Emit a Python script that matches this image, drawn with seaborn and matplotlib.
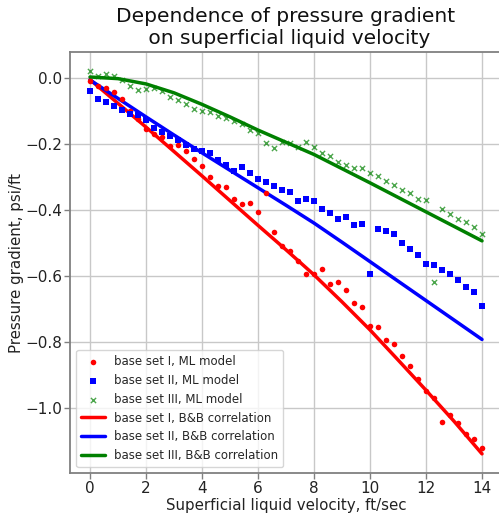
import numpy as np
import pandas as pd
import matplotlib
matplotlib.use("Agg")
import matplotlib.pyplot as plt
import seaborn as sns

# superficial liquid velocity of the ML model points (ft/sec)
velocity = [0.0, 0.29, 0.57, 0.86, 1.14, 1.43, 1.71, 2.0, 2.29, 2.57,
            2.86, 3.14, 3.43, 3.71, 4.0, 4.29, 4.57, 4.86, 5.14, 5.43,
            5.71, 6.0, 6.29, 6.57, 6.86, 7.14, 7.43, 7.71, 8.0, 8.29,
            8.57, 8.86, 9.14, 9.43, 9.71, 10.0, 10.29, 10.57, 10.86, 11.14,
            11.43, 11.71, 12.0, 12.29, 12.57, 12.86, 13.14, 13.43, 13.71, 14.0]

ml_set1 = [-0.010, -0.023, -0.029, -0.044, -0.065, -0.100, -0.125, -0.154, -0.170, -0.178,
           -0.206, -0.203, -0.221, -0.246, -0.266, -0.299, -0.329, -0.332, -0.366, -0.381,
           -0.378, -0.405, -0.350, -0.468, -0.510, -0.525, -0.555, -0.595, -0.593, -0.580,
           -0.624, -0.619, -0.642, -0.683, -0.695, -0.751, -0.754, -0.796, -0.806, -0.842,
           -0.874, -0.912, -0.950, -0.971, -1.042, -1.021, -1.045, -1.079, -1.094, -1.121]

ml_set2 = [-0.038, -0.064, -0.072, -0.084, -0.097, -0.109, -0.111, -0.126, -0.151, -0.164,
           -0.175, -0.189, -0.202, -0.215, -0.222, -0.229, -0.249, -0.263, -0.281, -0.270,
           -0.288, -0.307, -0.316, -0.328, -0.341, -0.346, -0.373, -0.367, -0.372, -0.396,
           -0.410, -0.429, -0.422, -0.446, -0.442, -0.593, -0.458, -0.464, -0.474, -0.500,
           -0.519, -0.537, -0.563, -0.568, -0.581, -0.594, -0.613, -0.633, -0.650, -0.692]

ml_set3 = [0.020, 0.007, 0.012, 0.007, -0.005, -0.023, -0.036, -0.034, -0.031, -0.040,
           -0.059, -0.067, -0.079, -0.094, -0.099, -0.102, -0.115, -0.120, -0.130, -0.141,
           -0.158, -0.167, -0.198, -0.211, -0.195, -0.198, -0.208, -0.195, -0.210, -0.226,
           -0.238, -0.254, -0.264, -0.272, -0.272, -0.287, -0.297, -0.312, -0.325, -0.340,
           -0.350, -0.366, -0.370, -0.618, -0.398, -0.413, -0.429, -0.437, -0.452, -0.472]

# B&B correlation curves
bb_velocity = [0, 1, 2, 3, 4, 5, 6, 7, 8, 9, 10, 11, 12, 13, 14]
bb_set1 = [-0.005, -0.077, -0.149, -0.223, -0.297, -0.372, -0.447, -0.521, -0.597,
           -0.679, -0.764, -0.855, -0.947, -1.041, -1.140]
bb_set2 = [-0.006, -0.062, -0.118, -0.173, -0.227, -0.280, -0.333, -0.386, -0.440,
           -0.498, -0.557, -0.616, -0.675, -0.734, -0.793]
bb_set3 = [0.003, -0.002, -0.018, -0.045, -0.080, -0.118, -0.158, -0.195, -0.232,
           -0.275, -0.318, -0.362, -0.406, -0.450, -0.494]

labels_ml = ["base set I, ML model", "base set II, ML model", "base set III, ML model"]
labels_bb = ["base set I, B&B correlation", "base set II, B&B correlation",
             "base set III, B&B correlation"]

sns.set_theme(style="whitegrid")
plt.rcParams["font.family"] = ["DejaVu Sans"]

fig = plt.figure(figsize=(4.99, 5.15), dpi=100)
ax = fig.add_axes([0.1411, 0.0816, 0.8641, 0.8169])

sns.scatterplot(x=velocity, y=ml_set1, ax=ax, color="red", marker="o", s=16,
                linewidth=0, label=labels_ml[0], zorder=3)
sns.scatterplot(x=velocity, y=ml_set2, ax=ax, color="blue", marker="s", s=16,
                linewidth=0, label=labels_ml[1], zorder=3)
sns.scatterplot(x=velocity, y=ml_set3, ax=ax, color="green", marker="x", s=14,
                linewidth=1.0, alpha=0.7, label=labels_ml[2], zorder=3)

sns.lineplot(x=bb_velocity, y=bb_set1, ax=ax, color="red", linewidth=2.5,
             label=labels_bb[0], zorder=2)
sns.lineplot(x=bb_velocity, y=bb_set2, ax=ax, color="blue", linewidth=2.5,
             label=labels_bb[1], zorder=2)
sns.lineplot(x=bb_velocity, y=bb_set3, ax=ax, color="green", linewidth=2.5,
             label=labels_bb[2], zorder=2)

ax.set_xlim(-0.7, 14.7)
ax.set_ylim(-1.198, 0.078)
ax.set_xticks([0, 2, 4, 6, 8, 10, 12, 14])
ax.set_yticks([0.0, -0.2, -0.4, -0.6, -0.8, -1.0])
ax.set_yticklabels(["0.0", "\u22120.2", "\u22120.4", "\u22120.6", "\u22120.8", "\u22121.0"])

ax.grid(True, color="#c8c8c8", linewidth=1.0)
for sp in ax.spines.values():
    sp.set_color("#808080")
    sp.set_linewidth(1.3)
ax.tick_params(axis="both", which="major", length=4, width=1, color="#808080",
               labelsize=11, labelcolor="#222222", bottom=True, left=True, pad=2)

ax.set_xlabel("Superficial liquid velocity, ft/sec", fontsize=10.8, color="#222222",
              labelpad=1)
ax.set_ylabel("Pressure gradient, psi/ft", fontsize=10.8, color="#222222",
              labelpad=1)
ax.set_title("Dependence of pressure gradient\n on superficial liquid velocity",
             fontsize=14.5, color="#111111", pad=6)

leg = ax.legend(loc="lower left", fontsize=8.5, frameon=True, framealpha=0.8,
                edgecolor="#cccccc", fancybox=True, handlelength=2.0)
leg.get_frame().set_facecolor("white")

fig.savefig("out.png", dpi=100)
